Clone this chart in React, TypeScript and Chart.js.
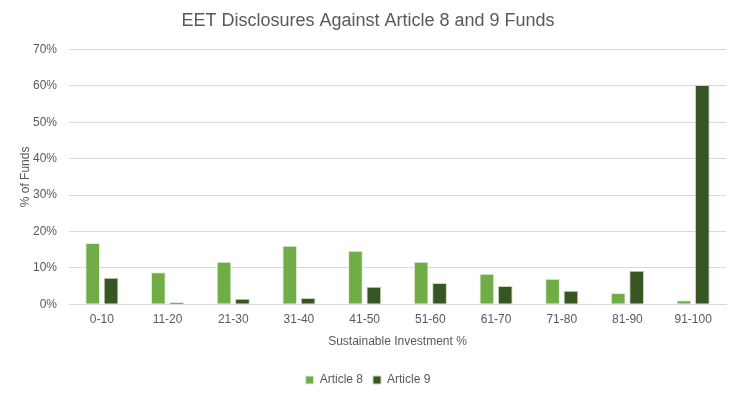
import React, { useEffect, useRef } from "react";
import { Chart, registerables } from "chart.js";

Chart.register(...registerables);

const categories = ["0-10", "11-20", "21-30", "31-40", "41-50", "51-60", "61-70", "71-80", "81-90", "91-100"];
const article8 = [16.8, 8.8, 11.7, 16.1, 14.7, 11.7, 8.4, 7.0, 3.1, 1.1];
const article9 = [7.3, 0.55, 1.5, 1.7, 4.8, 5.8, 5.0, 3.7, 9.2, 60.3];
const yTicks = [0, 10, 20, 30, 40, 50, 60, 70];

const FONT = "'Liberation Sans', 'DejaVu Sans', sans-serif";
const TEXT = "#595959";

export default function App() {
  const ref = useRef<HTMLCanvasElement | null>(null);
  useEffect(() => {
    if (!ref.current) return;
    const chart = new Chart(ref.current, {
      type: "bar",
      data: {
        labels: categories,
        datasets: [
          {
            label: "Article 8",
            data: article8,
            backgroundColor: "#70AD47",
            borderColor: "#E2EFDA",
            borderWidth: 1,
            categoryPercentage: 0.56,
            barPercentage: 0.8,
          },
          {
            label: "Article 9",
            data: article9,
            backgroundColor: "#375623",
            borderColor: "#C9D6BE",
            borderWidth: 1,
            categoryPercentage: 0.56,
            barPercentage: 0.8,
          },
        ],
      },
      options: {
        animation: false,
        responsive: false,
        maintainAspectRatio: false,
        layout: { padding: { left: 10, right: 10, top: 6, bottom: -3 } },
        plugins: {
          title: {
            display: true,
            text: "EET Disclosures Against Article 8 and 9 Funds",
            color: TEXT,
            font: { family: FONT, size: 18, weight: "normal" },
            padding: { top: 4, bottom: 18 },
          },
          legend: {
            position: "bottom",
            labels: {
              color: TEXT,
              font: { family: FONT, size: 12 },
              boxWidth: 8,
              boxHeight: 8,
              padding: 10,
            },
          },
          tooltip: { enabled: false },
        },
        scales: {
          x: {
            grid: { display: false, drawTicks: false },
            border: { color: "#D9D9D9", width: 1 },
            ticks: { color: TEXT, font: { family: FONT, size: 12 }, padding: 8 },
            title: {
              display: true,
              text: "Sustainable Investment %",
              color: TEXT,
              font: { family: FONT, size: 12 },
              padding: { top: 0, bottom: 15 },
            },
          },
          y: {
            min: 0,
            max: 70,
            afterBuildTicks: (axis: any) => {
              axis.ticks = yTicks.map((v) => ({ value: v }));
            },
            afterFit: (axis: any) => {
              axis.width = 59;
            },
            grid: { color: "#D9D9D9", drawTicks: false },
            border: { display: false },
            ticks: {
              color: TEXT,
              font: { family: FONT, size: 12 },
              padding: 12,
              callback: (v: any) => v + "%",
            },
            title: {
              display: true,
              text: "% of Funds",
              color: TEXT,
              font: { family: FONT, size: 12 },
              padding: { top: 8, bottom: 0 },
            },
          },
        },
      },
    });
    return () => chart.destroy();
  }, []);
  return (
    <div style={{ position: "fixed", left: 0, top: 0, width: 736, height: 393, background: "#fff" }}>
      <canvas ref={ref} width={736} height={393} style={{ width: 736, height: 393 }} />
    </div>
  );
}
